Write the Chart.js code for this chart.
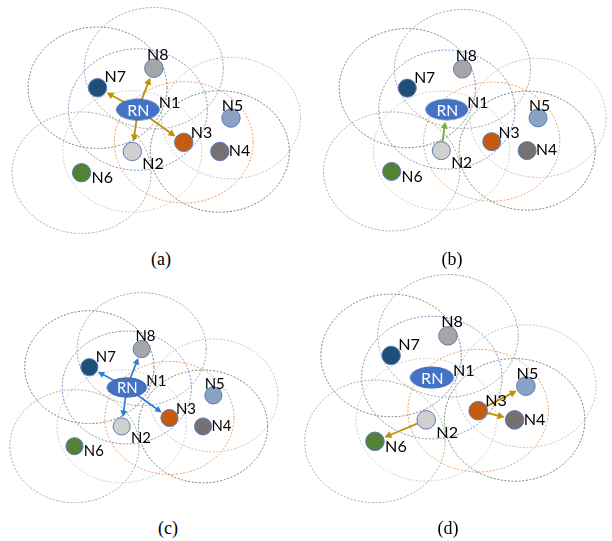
<!DOCTYPE html>
<html>
<head>
<meta charset="utf-8">
<script src="https://cdn.jsdelivr.net/npm/chart.js@4.4.1/dist/chart.umd.min.js"></script>
<style>
  html, body { margin: 0; padding: 0; background: #fff; }
  #stage { position: relative; width: 612px; height: 541px; overflow: hidden; background: #fff; }
  #stage canvas { position: absolute; }
  .cap { position: absolute; font-family: "Liberation Serif", "Times New Roman", serif; font-size: 18px;
         color: #000; transform: translate(-50%, -50%); line-height: 1; white-space: nowrap; }
</style>
</head>
<body>
<div id="stage"></div>
<script>
// Node positions in metres (x east, y north); N1 is the relay node RN
const nodeNames = ['N1', 'N2', 'N3', 'N4', 'N5', 'N6', 'N7', 'N8'];
const nodeX = [185, 177, 251, 303, 319, 104, 127, 208];
const nodeY = [199, 130, 145, 130, 185, 95, 235, 267];
const RANGE = 100; // radio range of every node, metres

// Transmissions in each step: [from, to] as node indices
const linksA = [[0, 6], [0, 7], [0, 2], [0, 1]];
const linksB = [[1, 0]];
const linksC = [[0, 6], [0, 7], [0, 2], [0, 1]];
const linksD = [[1, 5], [2, 4], [2, 3]];
const captions = ['(a)', '(b)', '(c)', '(d)'];

// ---- styling ----
const nodeFill = ['#4472c4', '#d0d0d0', '#c55a11', '#767171', '#8aa2c6', '#548235', '#1f4e79', '#a6a6a6'];
const rangeColor = ['#7a8cc4', '#c6cfcf', '#f09a60', '#6f7f73', '#bcc2c6', '#9fb38a', '#7d7d7d', '#a0a0a0'];
// label placement in px at full size: [align, dx, dy] relative to node centre
const labelPos = [
  ['left', 21, -7], ['left', 10, 12], ['left', 7, -10], ['left', 9, -1],
  ['center', 1.5, -13], ['left', 10, 5], ['left', 7, -11], ['center', 4, -14]
];
const PX_X = 0.74, PX_Y = 0.66;   // px per metre at full size
const NODE_R = 9.2, RN_RX = 21.3, RN_RY = 10.4;
const FONT = 'Lato, "Open Sans", sans-serif';

const panels = [
  { ox: 0,     oy: 0,     s: 1,    links: linksA, color: '#bf9000', cap: [161, 259] },
  { ox: 311.7, oy: 2.2,   s: 0.98, links: linksB, color: '#6fb040', cap: [452, 259] },
  { ox: -1.4,  oy: 285.6, s: 0.93, links: linksC, color: '#2a7fd4', cap: [168, 528] },
  { ox: 292.6, oy: 266.9, s: 1.01, links: linksD, color: '#bf9000', cap: [448, 528] }
];

function rnImage(s) {
  const rx = RN_RX * s, ry = RN_RY * s;
  const c = document.createElement('canvas');
  c.width = Math.ceil(2 * rx + 3); c.height = Math.ceil(2 * ry + 3);
  const g = c.getContext('2d');
  g.beginPath();
  g.ellipse(c.width / 2, c.height / 2, rx, ry, 0, 0, Math.PI * 2);
  g.fillStyle = '#4472c4'; g.fill();
  g.lineWidth = 1; g.strokeStyle = '#3d66b0'; g.stroke();
  return c;
}

function drawArrow(ctx, x0, y0, x1, y1, color, lw, hl, hw) {
  const dx = x1 - x0, dy = y1 - y0, L = Math.hypot(dx, dy), ux = dx / L, uy = dy / L;
  const bx = x1 - ux * hl, by = y1 - uy * hl;
  ctx.setLineDash([]);
  ctx.strokeStyle = color; ctx.fillStyle = color; ctx.lineWidth = lw;
  ctx.beginPath(); ctx.moveTo(x0, y0); ctx.lineTo(bx + ux, by + uy); ctx.stroke();
  ctx.beginPath();
  ctx.moveTo(x1, y1);
  ctx.lineTo(bx - uy * hw, by + ux * hw);
  ctx.lineTo(bx + uy * hw, by - ux * hw);
  ctx.closePath(); ctx.fill();
}

const netPlugin = {
  id: 'net',
  beforeDatasetsDraw(chart) {
    const { ctx, scales: { x, y } } = chart;
    const p = chart.options.plugins.net;
    const s = p.s;
    ctx.save();
    // radio ranges
    ctx.lineWidth = 1;
    ctx.setLineDash([2, 1.6]);
    nodeX.forEach((nx, i) => {
      const cx = x.getPixelForValue(nx), cy = y.getPixelForValue(nodeY[i]);
      const rx = Math.abs(x.getPixelForValue(nx + RANGE) - cx);
      const ry = Math.abs(y.getPixelForValue(nodeY[i] + RANGE) - cy);
      ctx.strokeStyle = rangeColor[i];
      ctx.beginPath(); ctx.ellipse(cx, cy, rx, ry, 0, 0, Math.PI * 2); ctx.stroke();
    });
    // transmissions
    p.links.forEach(([a, b]) => {
      const x0 = x.getPixelForValue(nodeX[a]), y0 = y.getPixelForValue(nodeY[a]);
      const x1 = x.getPixelForValue(nodeX[b]), y1 = y.getPixelForValue(nodeY[b]);
      const L = Math.hypot(x1 - x0, y1 - y0), ux = (x1 - x0) / L, uy = (y1 - y0) / L;
      let trim;
      if (b === 0) {
        trim = 1 / Math.sqrt((ux / (RN_RX * s)) ** 2 + (uy / (RN_RY * s)) ** 2) + 2;
      } else {
        trim = NODE_R * s + 1;
      }
      drawArrow(ctx, x0, y0, x1 - ux * trim, y1 - uy * trim, p.color, 1.8 * s, 7 * s, 3.6 * s);
    });
    ctx.restore();
  },
  afterDatasetsDraw(chart) {
    const { ctx, scales: { x, y } } = chart;
    const s = chart.options.plugins.net.s;
    const fs = 16 * s;
    ctx.save();
    ctx.font = fs + 'px ' + FONT;
    ctx.textBaseline = 'alphabetic';
    nodeNames.forEach((name, i) => {
      const cx = x.getPixelForValue(nodeX[i]), cy = y.getPixelForValue(nodeY[i]);
      const [align, dx, dy] = labelPos[i];
      ctx.textAlign = align;
      ctx.fillStyle = '#000';
      ctx.fillText(name, cx + dx * s, cy + dy * s + 0.358 * fs);
    });
    // relay node tag
    const rx = x.getPixelForValue(nodeX[0]), ry = y.getPixelForValue(nodeY[0]);
    ctx.textAlign = 'center';
    ctx.fillStyle = '#fff';
    ctx.fillText('RN', rx + 0.5 * s, ry + 0.358 * fs + 0.5 * s);
    ctx.restore();
  }
};

const stage = document.getElementById('stage');

panels.forEach((p, k) => {
  const s = p.s;
  // canvas covers -15..320 px horizontally and -8..248 px vertically at full size
  const left = Math.round(p.ox + s * -15), right = Math.round(p.ox + s * 320);
  const top = Math.round(p.oy + s * -8), bottom = Math.round(p.oy + s * 248);
  const W = right - left, H = bottom - top;
  const xMin = ((left - p.ox) / s) / PX_X, xMax = ((right - p.ox) / s) / PX_X;
  const yMax = (240 - (top - p.oy) / s) / PX_Y, yMin = (240 - (bottom - p.oy) / s) / PX_Y;

  const cv = document.createElement('canvas');
  cv.width = W; cv.height = H;
  cv.style.left = left + 'px'; cv.style.top = top + 'px';
  cv.style.width = W + 'px'; cv.style.height = H + 'px';
  stage.appendChild(cv);

  const rn = rnImage(s);
  new Chart(cv, {
    type: 'scatter',
    data: {
      datasets: [{
        data: nodeX.map((v, i) => ({ x: v, y: nodeY[i] })),
        pointStyle: nodeX.map((v, i) => i === 0 ? rn : 'circle'),
        pointRadius: NODE_R * s,
        backgroundColor: nodeFill,
        borderColor: '#5a7bb5',
        borderWidth: 1,
        clip: false
      }]
    },
    options: {
      responsive: false,
      maintainAspectRatio: false,
      devicePixelRatio: 1,
      animation: false,
      events: [],
      layout: { padding: 0 },
      scales: {
        x: { type: 'linear', display: false, min: xMin, max: xMax },
        y: { type: 'linear', display: false, min: yMin, max: yMax }
      },
      plugins: {
        legend: { display: false },
        tooltip: { enabled: false },
        net: { s: s, links: p.links, color: p.color }
      }
    },
    plugins: [netPlugin]
  });

  const cap = document.createElement('div');
  cap.className = 'cap';
  cap.textContent = captions[k];
  cap.style.left = p.cap[0] + 'px';
  cap.style.top = p.cap[1] + 'px';
  stage.appendChild(cap);
});
</script>
</body>
</html>
